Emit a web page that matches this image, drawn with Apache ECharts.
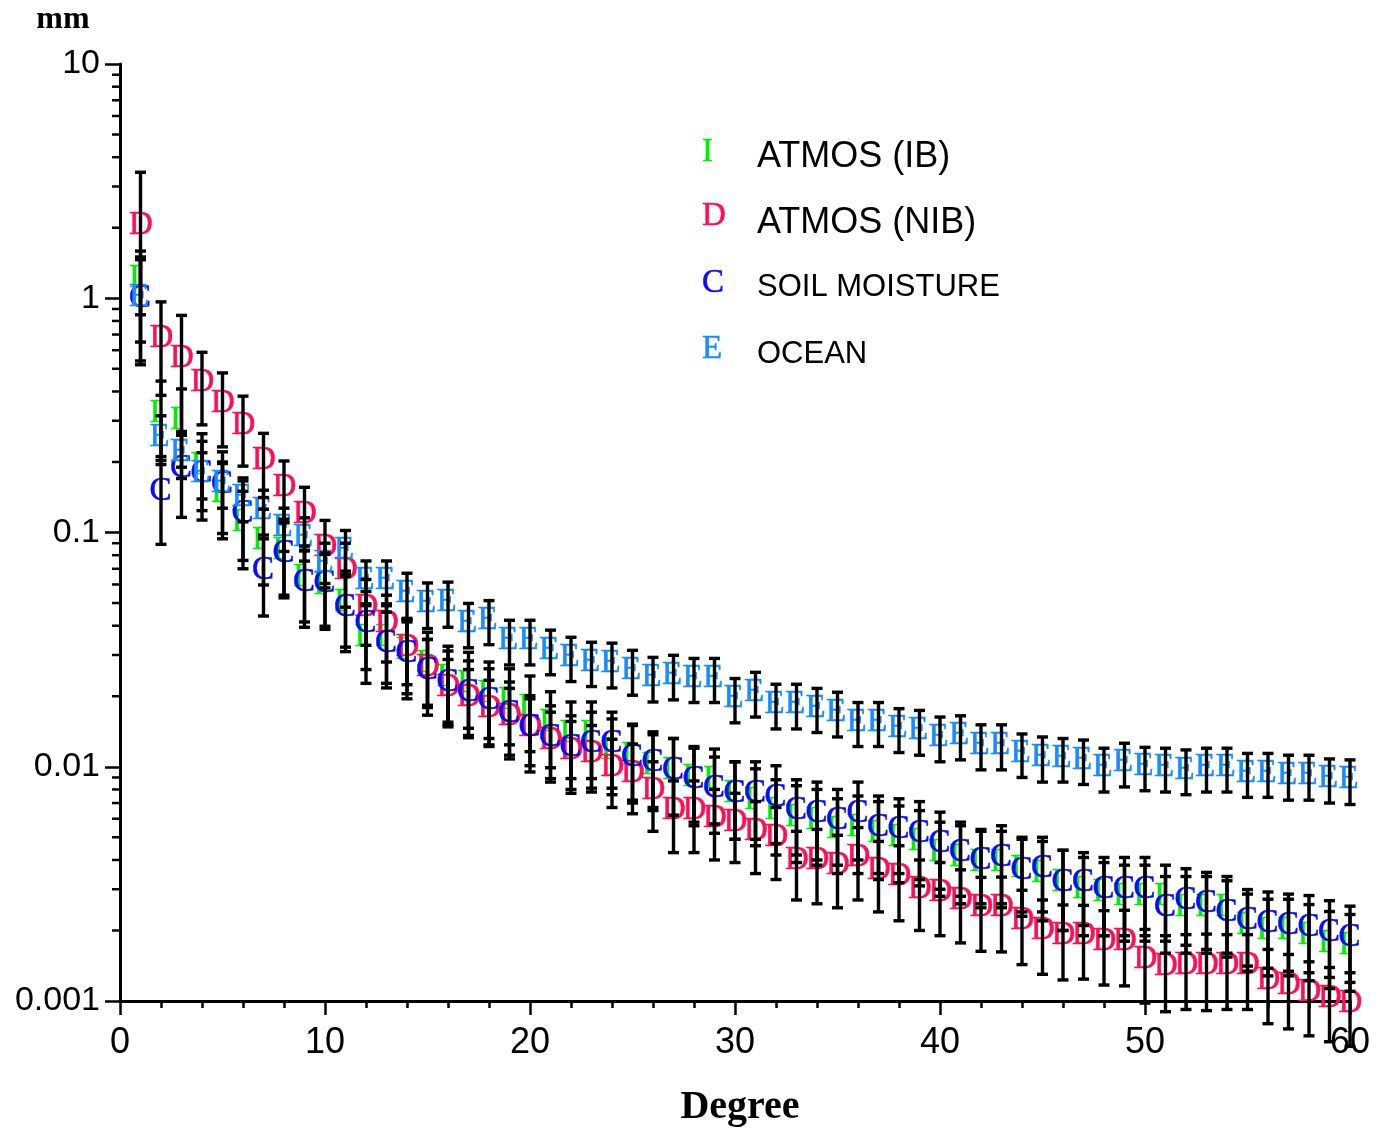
<!DOCTYPE html>
<html>
<head>
<meta charset="utf-8">
<script src="https://cdn.jsdelivr.net/npm/echarts@6/dist/echarts.min.js"></script>
<style>html,body{margin:0;padding:0;background:#fff;}#c{width:1389px;height:1135px;}</style>
</head>
<body>
<div id="c"></div>
<script>
// ---- data ----
const degrees = [1,2,3,4,5,6,7,8,9,10,11,12,13,14,15,16,17,18,19,20,21,22,23,24,25,26,27,28,29,30,31,32,33,34,35,36,37,38,39,40,41,42,43,44,45,46,47,48,49,50,51,52,53,54,55,56,57,58,59,60];

const atmosIB = [1.22,0.323,0.30,0.194,0.147,0.11,0.0927,0.084,0.0645,0.0596,0.0504,0.0357,0.0357,0.0315,0.0277,0.0241,0.0227,0.0206,0.0193,0.018,0.0154,0.0139,0.0139,0.0118,0.0112,0.0101,0.0097,0.009,0.0088,0.0077,0.0072,0.0065,0.0061,0.0059,0.0054,0.0055,0.0052,0.005,0.0048,0.0043,0.0041,0.0039,0.0039,0.0037,0.0035,0.0032,0.003,0.0029,0.0028,0.0028,0.0028,0.0025,0.0025,0.0025,0.0021,0.002,0.002,0.0019,0.00177,0.00172];
const atmosIBErr = [0.37,0.12,0.11,0.07,0.053,0.04,0.033,0.03,0.023,0.021,0.018,0.013,0.013,0.011,0.0098,0.0086,0.0081,0.0074,0.0069,0.0064,0.0055,0.005,0.005,0.0042,0.004,0.0036,0.0035,0.0032,0.0031,0.0028,0.0026,0.0023,0.0022,0.0021,0.0019,0.002,0.0019,0.0018,0.0017,0.0015,0.0015,0.0014,0.0014,0.0013,0.0013,0.0012,0.0011,0.001,0.001,0.001,0.001,0.0009,0.0009,0.0009,0.00076,0.00072,0.00072,0.00068,0.00064,0.00062];

const atmosNIB = [2.05,0.675,0.555,0.438,0.356,0.287,0.203,0.156,0.12,0.0866,0.069,0.048,0.041,0.0324,0.0266,0.0219,0.0198,0.0178,0.0164,0.0148,0.013,0.0118,0.0114,0.0099,0.0094,0.0079,0.0065,0.0065,0.006,0.0058,0.0053,0.005,0.004,0.004,0.0038,0.0041,0.0036,0.0034,0.003,0.0029,0.0027,0.0025,0.0025,0.0022,0.002,0.0019,0.0019,0.0018,0.0018,0.0015,0.0014,0.00142,0.00142,0.00142,0.00142,0.00123,0.00117,0.00109,0.00103,0.00098];
const atmosNIBErr = [1.4,0.29,0.29,0.15,0.124,0.095,0.062,0.046,0.036,0.026,0.021,0.015,0.013,0.010,0.0083,0.0068,0.0062,0.0056,0.0052,0.0047,0.0041,0.0038,0.0036,0.0032,0.0031,0.0026,0.0022,0.0022,0.0020,0.0019,0.0018,0.0017,0.0013,0.0014,0.0013,0.0014,0.0012,0.0012,0.0010,0.0010,0.00093,0.00087,0.00088,0.00077,0.00070,0.00067,0.00066,0.00063,0.00064,0.00052,0.00050,0.00050,0.00051,0.00050,0.00050,0.00043,0.00041,0.00038,0.00036,0.00034];

const soilMoisture = [1.0,0.15,0.188,0.179,0.16,0.121,0.069,0.0816,0.0614,0.0608,0.048,0.041,0.0337,0.0305,0.0258,0.023,0.0208,0.0193,0.0169,0.0148,0.0134,0.0121,0.0126,0.0126,0.011,0.0104,0.0097,0.0088,0.0081,0.0077,0.0077,0.0074,0.0065,0.0063,0.0059,0.0063,0.0055,0.0054,0.0052,0.0047,0.0043,0.004,0.0041,0.0036,0.0037,0.0032,0.0032,0.003,0.003,0.003,0.0025,0.0027,0.0026,0.0024,0.0022,0.00215,0.0021,0.00207,0.00197,0.00187];
const soilMoistureErr = [0.46,0.061,0.072,0.066,0.061,0.045,0.025,0.029,0.022,0.021,0.017,0.015,0.012,0.011,0.0092,0.0082,0.0075,0.0069,0.0061,0.0053,0.0048,0.0044,0.0045,0.0045,0.0040,0.0037,0.0035,0.0032,0.0029,0.0028,0.0028,0.0027,0.0023,0.0023,0.0021,0.0023,0.0020,0.0019,0.0019,0.0017,0.0015,0.0014,0.0015,0.0013,0.0013,0.0012,0.0011,0.0011,0.0011,0.0011,0.00090,0.00097,0.00094,0.00086,0.00079,0.00077,0.00076,0.00075,0.00071,0.00067];

const ocean = [1.01,0.255,0.22,0.179,0.162,0.141,0.1245,0.105,0.0955,0.074,0.084,0.0626,0.0626,0.055,0.0499,0.0504,0.041,0.0422,0.0347,0.0347,0.0315,0.0294,0.028,0.0277,0.0258,0.0241,0.0246,0.0239,0.0239,0.0196,0.0208,0.0185,0.0185,0.0178,0.0171,0.0155,0.0155,0.0146,0.0143,0.0134,0.0136,0.0124,0.0124,0.0114,0.011,0.0109,0.0107,0.0099,0.0104,0.01,0.0099,0.0097,0.0099,0.0099,0.0094,0.0094,0.0092,0.0092,0.0089,0.0088];
const oceanErr = [0.49,0.06,0.05,0.04,0.035,0.03,0.027,0.022,0.02,0.016,0.018,0.013,0.013,0.012,0.011,0.011,0.0088,0.009,0.0075,0.0075,0.0068,0.0063,0.006,0.006,0.0056,0.0052,0.0053,0.0051,0.0051,0.0042,0.0045,0.004,0.004,0.0038,0.0037,0.0033,0.0033,0.0031,0.0031,0.0029,0.0029,0.0027,0.0027,0.0024,0.0024,0.0023,0.0023,0.0021,0.0022,0.0021,0.0021,0.0021,0.0021,0.0021,0.002,0.002,0.002,0.002,0.0019,0.0019];

const seriesNames = ['ATMOS (IB)','ATMOS (NIB)','SOIL MOISTURE','OCEAN'];
const seriesLetters = ['I','D','C','E'];
const seriesColors = ['#00ee00','#ff0d55','#0a0aff','#1a8cff'];
const yTickLabels = ['0.001','0.01','0.1','1','10'];
const xTickLabels = ['0','10','20','30','40','50','60'];

// ---- build ----
const values = [atmosIB, atmosNIB, soilMoisture, ocean];
const errs = [atmosIBErr, atmosNIBErr, soilMoistureErr, oceanErr];

const minorY = [];
[0.001,0.01,0.1,1].forEach(function(dec){ for (let k=2;k<=9;k++) minorY.push([0, dec*k]); });

const chart = echarts.init(document.getElementById('c'), null, {renderer:'canvas'});

const series = [];
// letter markers (glyphs start at a fixed offset left of the point, like the original plot)
values.forEach(function(arr, si){
  series.push({
    type:'custom', name: seriesNames[si], clip:false, z:2,
    data: degrees.map(function(d,i){ return [d, arr[i]]; }),
    encode:{x:0,y:1},
    renderItem: function(params, api){
      const p = api.coord([api.value(0), api.value(1)]);
      return {type:'text', x:p[0]-11.5, y:p[1], style:{text: seriesLetters[si], fontSize:33, fontFamily:'Liberation Serif', fill: seriesColors[si], stroke: seriesColors[si], lineWidth:0.5, align:'left', verticalAlign:'middle'}};
    }
  });
});
// error bars
values.forEach(function(arr, si){
  series.push({
    type:'custom', clip:false, z:3,
    data: degrees.map(function(d,i){ return [d, arr[i], errs[si][i]]; }),
    encode:{x:0,y:1},
    renderItem: function(params, api){
      const x = api.value(0), v = api.value(1), s = api.value(2);
      const t = api.coord([x, v + s]);
      const b = api.coord([x, v - s]);
      const h = 5.5;
      const st = {stroke:'#000', lineWidth:3.4};
      return {type:'group', children:[
        {type:'line', shape:{x1:t[0],y1:t[1],x2:b[0],y2:b[1]}, style:st},
        {type:'line', shape:{x1:t[0]-h,y1:t[1],x2:t[0]+h,y2:t[1]}, style:st},
        {type:'line', shape:{x1:b[0]-h,y1:b[1],x2:b[0]+h,y2:b[1]}, style:st}
      ]};
    }
  });
});
// y minor ticks (log spaced)
series.push({
  type:'custom', clip:false, z:4, silent:true,
  data: minorY, encode:{x:0,y:1},
  renderItem: function(params, api){
    const p = api.coord([api.value(0), api.value(1)]);
    return {type:'line', shape:{x1:p[0]-8,y1:p[1],x2:p[0],y2:p[1]}, style:{stroke:'#000', lineWidth:2.5}};
  }
});

const legendGraphics = [];
const legendY = [152, 216, 283, 349];
const legendTextY = [157, 223, 287, 354];
const legendSize = [36, 36, 31, 31];
seriesNames.forEach(function(n, i){
  legendGraphics.push({type:'text', x:702, y:legendY[i], style:{text:seriesLetters[i], fontSize:33, fontFamily:'Liberation Serif', fill:seriesColors[i], stroke:seriesColors[i], lineWidth:0.5, align:'left', verticalAlign:'middle'}});
  legendGraphics.push({type:'text', x:757, y:legendTextY[i], style:{text:n, fontSize:legendSize[i], fontFamily:'Liberation Sans', fill:'#000', align:'left', verticalAlign:'middle'}});
});
legendGraphics.push({type:'text', x:63, y:20, style:{text:'mm', fontSize:32, fontWeight:'bold', fontFamily:'Liberation Serif', fill:'#000', align:'center', verticalAlign:'middle'}});
legendGraphics.push({type:'text', x:740, y:1108, style:{text:'Degree', fontSize:40, fontWeight:'bold', fontFamily:'Liberation Serif', fill:'#000', align:'center', verticalAlign:'middle'}});

chart.setOption({
  animation:false,
  backgroundColor:'#fff',
  grid:{left:120, right:39, top:64, bottom:134, containLabel:false},
  xAxis:{
    type:'value', min:0, max:60, interval:10,
    axisLine:{show:true, onZero:false, lineStyle:{color:'#000', width:3}},
    axisTick:{show:true, inside:false, length:14, lineStyle:{color:'#000', width:2.5}},
    minorTick:{show:true, splitNumber:5, length:7, lineStyle:{color:'#000', width:2.5}},
    splitLine:{show:false},
    axisLabel:{margin:24, color:'#000', fontSize:36, fontFamily:'Liberation Sans',
      formatter:function(v){ const i = Math.round(v/10); return xTickLabels[i] !== undefined ? xTickLabels[i] : ''; }}
  },
  yAxis:{
    type:'log', logBase:10, min:0.001, max:10,
    axisLine:{show:true, onZero:false, lineStyle:{color:'#000', width:3}},
    axisTick:{show:true, inside:false, length:15, lineStyle:{color:'#000', width:2.5}},
    splitLine:{show:false},
    axisLabel:{margin:20, color:'#000', fontSize:34, fontFamily:'Liberation Sans',
      formatter:function(v){ const i = Math.round(Math.log10(v)) + 3; return yTickLabels[i] !== undefined ? yTickLabels[i] : ''; }}
  },
  graphic: legendGraphics,
  series: series
});
</script>
</body>
</html>
